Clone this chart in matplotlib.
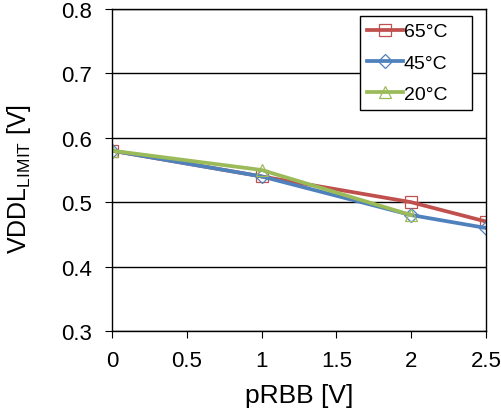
import matplotlib
matplotlib.use('Agg')
import matplotlib.pyplot as plt

plt.rcParams['font.family'] = ['Liberation Sans', 'DejaVu Sans']

prbb = [0, 1, 2, 2.5]
vddl_65 = [0.58, 0.54, 0.50, 0.47]
vddl_45 = [0.58, 0.54, 0.48, 0.46]
prbb_20 = [0, 1, 2]
vddl_20 = [0.58, 0.55, 0.48]

fig = plt.figure(figsize=(5.02, 4.14), dpi=100)
ax = fig.add_axes([0.223, 0.198, 0.745, 0.778])

ax.plot(prbb, vddl_65, color='#C0504D', lw=2.7, marker='s', ms=9, mfc='none', mew=0.9, label='65°C')
ax.plot(prbb, vddl_45, color='#4F81BD', lw=2.7, marker='D', ms=7.5, mfc='none', mew=0.9, label='45°C')
ax.plot(prbb_20, vddl_20, color='#9BBB59', lw=2.7, marker='^', ms=9, mfc='none', mew=0.9, label='20°C')

ax.set_xlim(0, 2.5)
ax.set_ylim(0.3, 0.8)
ax.set_xticks([0, 0.5, 1, 1.5, 2, 2.5])
ax.set_xticklabels(['0', '0.5', '1', '1.5', '2', '2.5'])
ax.set_yticks([0.3, 0.4, 0.5, 0.6, 0.7, 0.8])
ax.grid(axis='y', color='black', lw=1)
ax.set_axisbelow(True)
ax.tick_params(labelsize=16, direction='out', length=5, color='black')
ax.tick_params(axis='x', pad=9)
ax.tick_params(axis='y', pad=9.5)
for s in ax.spines.values():
    s.set_color('black')
    s.set_linewidth(1)

ax.set_xlabel('pRBB [V]', fontsize=19, labelpad=8)
ax.set_ylabel('VDDL$_{\\mathregular{LIMIT}}$ [V]', fontsize=18)
ax.yaxis.set_label_coords(-0.212, 0.475)

leg = ax.legend(loc='upper left', bbox_to_anchor=(0.663, 0.678, 0.2995, 0.3), mode='expand',
                fontsize=14, fancybox=False, edgecolor='black', framealpha=1,
                handlelength=1.85, handletextpad=0.05, labelspacing=0.7,
                borderpad=0.35, borderaxespad=0)
leg.get_frame().set_linewidth(1)

fig.savefig('out.png', dpi=100)
